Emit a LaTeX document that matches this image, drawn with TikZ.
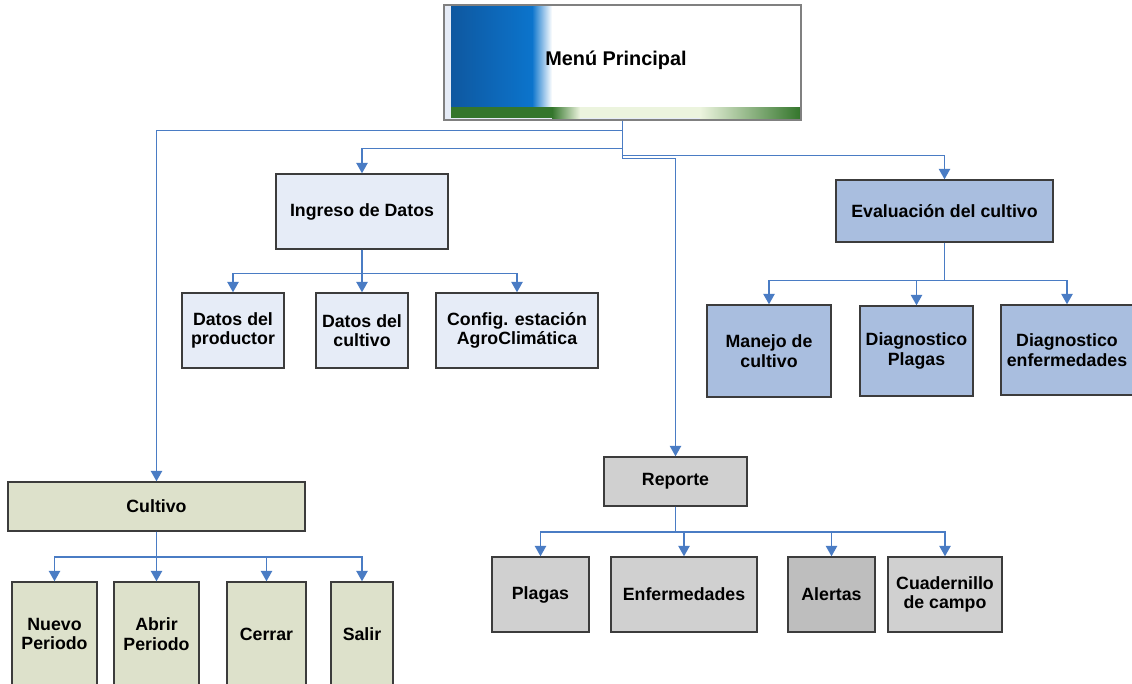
\documentclass[tikz,border=0pt]{standalone}
\usepackage{fontspec}
\setmainfont{Liberation Sans}
\usetikzlibrary{positioning,arrows.meta}
\definecolor{lineBlue}{RGB}{74,124,196}
\definecolor{boxGray}{RGB}{60,60,60}
\definecolor{datosFill}{RGB}{230,236,247}
\definecolor{evalFill}{RGB}{169,190,223}
\definecolor{cultFill}{RGB}{221,225,203}
\definecolor{repFill}{RGB}{208,208,208}
\definecolor{alertFill}{RGB}{190,190,190}
\definecolor{menuBlueA}{RGB}{14,88,160}
\definecolor{menuBlueB}{RGB}{12,116,204}
\definecolor{menuGreen}{RGB}{52,118,44}
\definecolor{menuPale}{RGB}{236,244,222}

\begin{document}
\begin{tikzpicture}[
    x=0.02cm, y=-0.02cm,
    blk/.style 2 args={draw=boxGray, line width=0.8pt, minimum width=#1*0.02cm, minimum height=#2*0.02cm,
        inner sep=1pt, font=\fontsize{10.1}{11}\selectfont\bfseries, align=center},
    conn/.style={lineBlue, line width=0.9pt, -{Triangle[length=6pt, width=6.5pt]}},
]
\useasboundingbox[fill=white] (0,0) rectangle (1132,683);
\clip (0,0) rectangle (1132,683);

% Menu banner
\fill[datosFill] (444,5) rectangle (801,120);
\fill[white] (451,6) rectangle (800,118);
\shade[left color=menuBlueA, right color=menuBlueB] (451,6) rectangle (532,107);
\shade[left color=menuBlueB, right color=white] (532,6) rectangle (552,107);
\fill[menuGreen] (451,107) rectangle (552,118);
\shade[left color=menuGreen, right color=menuPale] (552,107) rectangle (580,118);
\fill[menuPale] (580,107) rectangle (700,118);
\shade[left color=menuPale, right color=menuGreen] (700,107) rectangle (800,118);
\node[draw=gray, line width=0.8pt, minimum width=357*0.02cm, minimum height=115*0.02cm, inner sep=0pt] (menu) at (622.5,62.5) {};
\node[anchor=west, inner sep=0pt, font=\fontsize{11.3}{12}\selectfont\bfseries] (menutxt) at (545,60) {Menú Principal};

% Ingreso de Datos
\node[blk={172}{75}, fill=datosFill] (ingreso) at (362,211.5) {Ingreso de Datos};
\node[blk={102}{75}, fill=datosFill] (prod) at (233,330.5) {Datos del\\productor};
\node[blk={92}{75}, fill=datosFill] (dcult) at (362,330.5) {Datos del\\cultivo};
\node[blk={162}{75}, fill=datosFill] (config) at (517,330.5) {Config. estación\\AgroClimática};

% Evaluacion del cultivo
\node[blk={217}{62}, fill=evalFill] (eval) at (944.5,211) {Evaluación del cultivo};
\node[blk={124}{92}, fill=evalFill] (manejo) at (769,351) {Manejo de\\cultivo};
\node[blk={113}{90}, fill=evalFill] (dplagas) at (916.5,351) {Diagnostico\\Plagas};
\node[blk={132}{90}, fill=evalFill] (denf) at (1067,350) {Diagnostico\\enfermedades};

% Cultivo
\node[blk={297}{49}, fill=cultFill] (cultivo) at (156.5,506.5) {Cultivo};
\node[blk={85}{104}, fill=cultFill] (nuevo) at (54.5,634) {Nuevo\\Periodo};
\node[blk={85}{104}, fill=cultFill] (abrir) at (156.5,634) {Abrir\\Periodo};
\node[blk={79}{104}, fill=cultFill] (cerrar) at (266.5,634) {Cerrar};
\node[blk={62}{104}, fill=cultFill] (salir) at (362,634) {Salir};

% Reporte
\node[blk={143}{49}, fill=repFill] (reporte) at (675.5,481.5) {Reporte};
\node[blk={97}{75}, fill=repFill] (rplagas) at (540.5,594.5) {Plagas};
\node[blk={146}{75}, fill=repFill] (renf) at (684,594.5) {Enfermedades};
\node[blk={87}{75}, fill=alertFill] (alertas) at (831.5,594.5) {Alertas};
\node[blk={114}{75}, fill=repFill] (cuad) at (945,594.5) {Cuadernillo\\de campo};

% Connectors from the menu
\draw[conn] (menu.south) -- ++(0,10) -| (cultivo);
\draw[conn] (menu.south) -- ++(0,28) -| (ingreso);
\draw[conn] (menu.south) -- ++(0,35) -| (eval);
\draw[conn] (menu.south) -- ++(0,38) -| (reporte);

% Connectors to the sub items
\foreach \child in {prod,dcult,config}
    \draw[conn] (ingreso.south) -- ++(0,24) -| (\child);
\foreach \child in {manejo,dplagas,denf}
    \draw[conn] (eval.south) -- ++(0,38) -| (\child);
\foreach \child in {nuevo,abrir,cerrar,salir}
    \draw[conn] (cultivo.south) -- ++(0,25) -| (\child);
\foreach \child in {rplagas,renf,alertas,cuad}
    \draw[conn] (reporte.south) -- ++(0,25) -| (\child);
\end{tikzpicture}
\end{document}
